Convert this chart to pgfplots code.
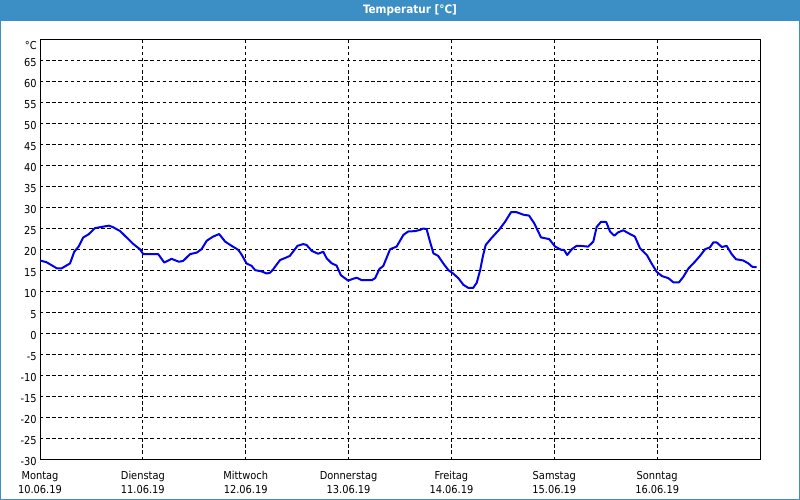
\documentclass[border=0pt]{standalone}
\usepackage{pgfplots}
\pgfplotsset{compat=1.18}
\usepackage{fontspec}
\setmainfont{DejaVu Sans Condensed}
\definecolor{barblue}{RGB}{59,143,196}
\definecolor{linblue}{RGB}{0,0,235}
\begin{document}
\begin{tikzpicture}
\useasboundingbox (0,0) rectangle (600bp,375bp);
\fill[white] (0,0) rectangle (600bp,375bp);
\fill[barblue] (0,359.25bp) rectangle (600bp,375bp);
\draw[barblue, line width=1.5bp] (0,0) rectangle (600bp,375bp);
\node[white, font=\bfseries\fontsize{8.7bp}{10bp}\selectfont] at (307.5bp,367.6bp) {Temperatur [°C]};
\begin{axis}[
  at={(30bp,30bp)}, anchor=south west,
  scale only axis, width=540bp, height=315bp,
  xmin=0, xmax=168, ymin=-30, ymax=70,
  xtick={0,24,48,72,96,120,144},
  xticklabels={{Montag\\10.06.19},{Dienstag\\11.06.19},{Mittwoch\\12.06.19},{Donnerstag\\13.06.19},{Freitag\\14.06.19},{Samstag\\15.06.19},{Sonntag\\16.06.19}},
  ytick={-30,-25,...,65},
  yticklabels={-30,-25,-20,-15,-10,-5,0,5,10,15,20,25,30,35,40,45,50,55,60,65},
  extra y ticks={70},
  extra y tick labels={°C},
  extra y tick style={grid=none, yticklabel style={yshift=-3.5bp}},
  /pgf/number format/assume math mode=true,
  tick label style={font=\fontsize{8.2bp}{10.5bp}\selectfont, text=black},
  xticklabel style={align=center, inner sep=0pt, yshift=-8.5bp},
  yticklabel style={inner sep=0pt, xshift=-2.3bp, yshift=-1bp},
  major tick length=0pt,
  axis line style={black, line width=0.75bp},
  grid=major,
  major grid style={black, line width=0.75bp, dash pattern=on 2.6bp off 2bp},
  clip=true,
]
\addplot[linblue, line width=1.5bp, line join=round] table {
h T
0 17.5
1.5 17.1
4 15.6
5 15.6
7 16.8
8 19.6
9 20.8
10.1 23.0
11.3 23.7
12.8 25.2
14.4 25.5
16.1 25.8
17.1 25.4
18.7 24.5
20.2 23.0
21.8 21.4
23.3 20.2
24.1 19.0
25.7 19.0
27.6 19.0
29 17.0
30.7 17.9
32.4 17.2
33.4 17.4
35 19.0
36.6 19.4
37.7 20.2
38.9 22.2
40.4 23.2
41.8 23.8
43.2 22.0
44.7 21.0
46.3 20.0
47.1 18.8
48.2 16.8
49.4 16.2
50.2 15.2
51.7 14.9
52.9 14.4
53.7 14.6
54.4 15.4
56 17.6
57.2 18.1
58.3 18.6
60.1 21.0
61.4 21.4
62.2 21.2
63.4 19.8
64.9 19.1
66.1 19.6
66.9 18.0
68.1 16.8
69.2 16.3
70.2 14.0
71.9 12.7
72.9 13.1
73.9 13.4
75.1 12.8
77.4 12.8
78.2 13.3
79.2 15.5
80.1 16.2
81.7 20.2
83.2 20.8
84.8 23.6
85.9 24.4
87.5 24.5
88.7 24.8
89.4 25.1
90.2 25.0
91 22.0
91.8 19.2
92.9 18.6
94.1 16.8
95.3 15.2
96.4 14.4
97.6 13.3
98.8 11.7
99.9 11.0
101.1 11.0
101.9 12.2
102.7 15.2
103.4 18.8
104 21.2
105.4 22.9
107.1 24.8
108.5 26.7
109.9 29.0
111.2 29.0
112.8 28.4
114.1 28.2
115.3 26.4
116.9 23.0
118.8 22.6
120.2 20.8
121.7 20.0
122.3 20.0
123 18.8
124.1 20.2
125.2 21.0
126 21.0
127.9 20.8
129.1 22.0
129.9 25.5
130.9 26.7
132.1 26.7
133 24.4
134 23.4
134.9 24.2
136.1 24.7
137.3 24.0
138.8 23.2
140 20.4
141.6 18.8
142.7 16.8
143.9 14.8
145.1 13.8
146.6 13.3
147.8 12.3
149.1 12.3
150.1 13.6
151.3 15.6
152.8 17.2
154 18.6
155.2 20.2
156.3 20.6
157.1 21.8
157.9 21.8
159.1 20.7
160.2 21.0
161.4 19.0
162.4 17.8
164.1 17.5
165.3 16.8
166.2 16.0
167.2 15.9
};
\end{axis}
\end{tikzpicture}
\end{document}
